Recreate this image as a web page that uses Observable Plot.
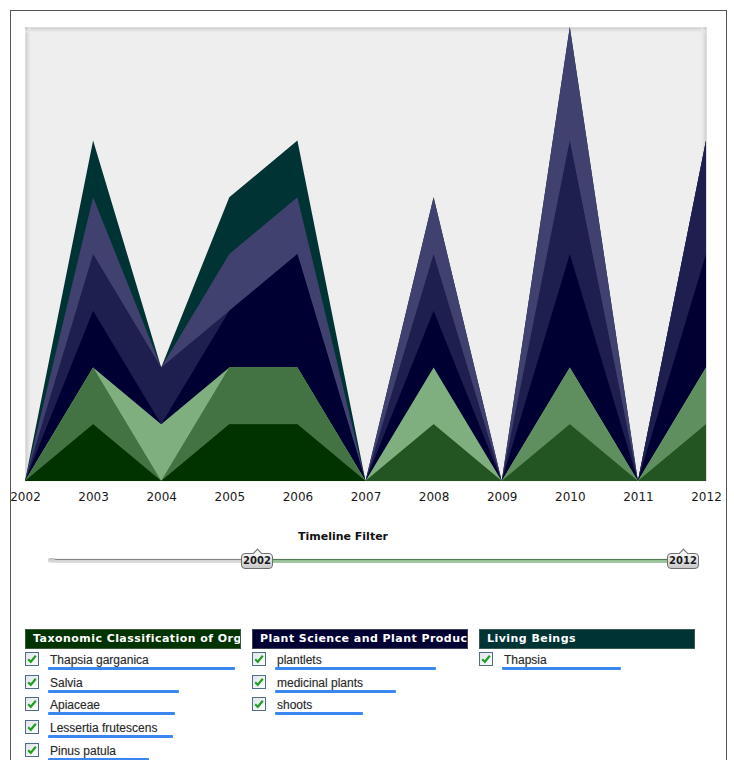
<!DOCTYPE html>
<html>
<head>
<meta charset="utf-8">
<script src="https://cdn.jsdelivr.net/npm/d3@7"></script>
<script src="https://cdn.jsdelivr.net/npm/@observablehq/plot@0.6"></script>
<style>
  html, body { margin: 0; padding: 0; background: #fff; }
  body { width: 734px; height: 760px; position: relative; overflow: hidden; font-family: "DejaVu Sans", Verdana, sans-serif; }
  #frame { position: absolute; left: 10px; top: 10px; width: 715px; height: 770px; border: 1px solid #555; }
  #chart { position: absolute; left: 11px; top: 11px; }
  #tl-title { position: absolute; left: 243px; width: 200px; top: 530px; text-align: center; font: bold 11px "DejaVu Sans", sans-serif; color: #111; }
  .track { position: absolute; height: 5px; box-sizing: border-box; }
  .handle { position: absolute; top: 553px; width: 32px; height: 16px; box-sizing: border-box; border: 1px solid #6f6f6f; border-radius: 4px;
            background: linear-gradient(#f4f4f4, #c9c9c9); font: bold 10px "DejaVu Sans", sans-serif; color: #1a1a1a; text-align: center; line-height: 14px; }
  .notch { position: absolute; left: 12px; top: -4px; width: 6px; height: 6px; transform: rotate(45deg); background: #f4f4f4;
           border-left: 1px solid #6f6f6f; border-top: 1px solid #6f6f6f; }
  .group { position: absolute; top: 629px; width: 216px; }
  .ghead { height: 20px; box-sizing: border-box; border: 1px solid rgba(120,130,120,0.5); color: #fff; font: bold 11px "DejaVu Sans", sans-serif;
           letter-spacing: 0.45px; line-height: 18px; padding-left: 7px; white-space: nowrap; overflow: hidden; }
  .item { position: absolute; left: 0; height: 20px; }
  .item svg { position: absolute; left: 0; top: 0; }
  .lbl { position: absolute; left: 25px; top: 1px; font: 12px "Liberation Sans", Arial, sans-serif; color: #2a2a2a; white-space: nowrap; text-shadow: 0 0 1px rgba(0,0,0,0.25); }
  .uline { position: absolute; left: 23px; top: 15px; height: 3px; background: #3b87f2; border-radius: 1px; }
</style>
</head>
<body>
<div id="frame"></div>
<div id="chart"></div>
<div id="tl-title">Timeline Filter</div>
<div id="slider"></div>
<div id="legend"></div>
<script>
// ---------- data ----------
const years = [2002, 2003, 2004, 2005, 2006, 2007, 2008, 2009, 2010, 2011, 2012];

// Taxonomic Classification of Organisms
const thapsiaGarganica    = [0, 1, 0, 1, 1, 0, 0, 0, 0, 0, 0];
const salvia              = [0, 0, 0, 0, 0, 0, 1, 0, 1, 0, 1];
const apiaceae            = [0, 1, 0, 1, 1, 0, 0, 0, 0, 0, 0];
const lessertiaFrutescens = [0, 0, 0, 0, 0, 0, 0, 0, 1, 0, 1];
const pinusPatula         = [0, 0, 1, 0, 0, 0, 1, 0, 0, 0, 0];
// Plant Science and Plant Products
const plantlets           = [0, 1, 0, 1, 2, 0, 1, 0, 2, 0, 2];
const medicinalPlants     = [0, 1, 1, 0, 0, 0, 1, 0, 2, 0, 2];
const shoots              = [0, 1, 0, 1, 1, 0, 1, 0, 2, 0, 0];
// Living Beings
const thapsia             = [0, 1, 0, 1, 1, 0, 0, 0, 0, 0, 0];

const groupNames = ["Taxonomic Classification of Organisms", "Plant Science and Plant Products", "Living Beings"];
const groupColors = ["#003300", "#000033", "#003333"];

const seriesNames = ["Thapsia garganica", "Salvia", "Apiaceae", "Lessertia frutescens", "Pinus patula",
                     "plantlets", "medicinal plants", "shoots", "Thapsia"];
const seriesGroup = [0, 0, 0, 0, 0, 1, 1, 1, 2];
const seriesValues = [thapsiaGarganica, salvia, apiaceae, lessertiaFrutescens, pinusPatula,
                      plantlets, medicinalPlants, shoots, thapsia];
const seriesColors = ["#003300", "#225522", "#437343", "#5f8f5f", "#7faf7f",
                      "#000033", "#1f1f4f", "#414170", "#003333"];
// relevance bars under each legend entry
const seriesRelevance = [94, 66, 64, 63, 51, 81, 61, 44, 60];

const yMax = 8;

// ---------- chart ----------
// stacked layers: each series drawn from 0 up to its cumulative top, topmost first (no seams)
const rows = [];
const running = years.map(() => 0);
const tops = seriesNames.map((s, i) => years.map((y, j) => (running[j] += seriesValues[i][j])));
for (let i = seriesNames.length - 1; i >= 0; i--) {
  years.forEach((y, j) => rows.push({year: y, series: seriesNames[i], value: seriesValues[i][j], top: tops[i][j]}));
}

const shades = ["#c4c4c4", "#cfcfcf", "#d9d9d9", "#e2e2e2", "#e9e9e9"];
const shadowMarks = [];
shades.forEach((c, i) => {
  shadowMarks.push(Plot.ruleY([yMax], {stroke: c, dy: i + 0.5}));
  shadowMarks.push(Plot.ruleX([years[0]], {stroke: c, dx: i + 0.5}));
  shadowMarks.push(Plot.ruleX([years[years.length - 1]], {stroke: c, dx: -(i + 0.5)}));
});

const chart = Plot.plot({
  width: 715,
  height: 500,
  marginLeft: 14,
  marginRight: 20,
  marginTop: 16,
  marginBottom: 30,
  style: {fontSize: "12px", fontFamily: "DejaVu Sans, Verdana, sans-serif", color: "#1a1a1a", background: "transparent"},
  x: {type: "linear", domain: [years[0], years[years.length - 1]], ticks: years, tickFormat: "d", tickSize: 0, tickPadding: 11, label: null},
  y: {domain: [0, yMax], axis: null},
  color: {domain: seriesNames, range: seriesColors},
  marks: [
    Plot.frame({fill: "#eeeeee"}),
    ...shadowMarks,
    Plot.areaY(rows, {x: "year", y1: 0, y2: "top", z: "series", fill: "series", curve: "linear"})
  ]
});
document.getElementById("chart").appendChild(chart);

// ---------- timeline slider ----------
const slider = d3.select("#slider");
const sx = d3.scaleLinear().domain([years[0], years[years.length - 1]]).range([257, 683]);
const lo = years[0], hi = years[years.length - 1];
slider.append("div").attr("class", "track")
  .style("left", "48px").style("top", "558px").style("width", "8px")
  .style("background", "linear-gradient(#bdbdbd, #e6e6e6)").style("border-radius", "2px");
slider.append("div").attr("class", "track")
  .style("left", "55px").style("top", "558px").style("width", (sx(lo) - 16 - 55) + "px")
  .style("background", "linear-gradient(#f2f2f2 0, #f2f2f2 1px, #7a7a7a 1px, #8a8a8a 2px, #d4d4d4 2px, #dedede 5px)");
slider.append("div").attr("class", "track")
  .style("left", (sx(lo) + 15) + "px").style("top", "558px").style("width", (sx(hi) - sx(lo) - 30) + "px")
  .style("background", "linear-gradient(#eef4ee 0, #eef4ee 1px, #4d6e4d 1px, #5d7f5d 2px, #93bf93 2px, #a3c9a3 5px)");
[lo, hi].forEach(v => {
  const h = slider.append("div").attr("class", "handle").style("left", (sx(v) - 16) + "px");
  h.append("div").attr("class", "notch");
  h.append("span").style("position", "relative").text(v);
});

// ---------- legend ----------
const legend = d3.select("#legend");
const groupLeft = [25, 252, 479];
const wScale = d3.scaleLinear().domain([0, 100]).range([0, 199]);
groupNames.forEach((g, gi) => {
  const box = legend.append("div").attr("class", "group").style("left", groupLeft[gi] + "px");
  box.append("div").attr("class", "ghead").style("background", groupColors[gi]).text(g);
  let k = 0;
  seriesNames.forEach((s, i) => {
    if (seriesGroup[i] !== gi) return;
    const it = box.append("div").attr("class", "item").style("top", (23 + k * 22.7) + "px");
    it.html(`<svg width="15" height="15" viewBox="0 0 15 15">
      <defs><linearGradient id="cb${i}" x1="0" y1="0" x2="1" y2="1"><stop offset="0" stop-color="#dfe3e8"/><stop offset="1" stop-color="#ffffff"/></linearGradient></defs>
      <rect x="0.5" y="0.5" width="13" height="13" fill="url(#cb${i})" stroke="#4f6d8a"/>
      <path d="M3.2 7.2 L5.8 9.8 L10.8 3.8" fill="none" stroke="#21a021" stroke-width="2.2"/>
    </svg>`);
    it.append("div").attr("class", "lbl").text(s);
    it.append("div").attr("class", "uline").style("width", wScale(seriesRelevance[i]) + "px");
    k++;
  });
});
</script>
</body>
</html>
